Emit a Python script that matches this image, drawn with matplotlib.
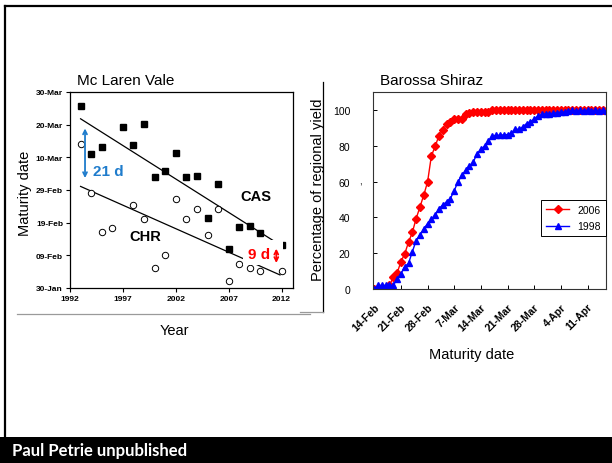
import numpy as np
import matplotlib
matplotlib.use('Agg')
import matplotlib.pyplot as plt
from matplotlib.lines import Line2D
from matplotlib.patches import Rectangle

plt.rcParams['font.family'] = ['Liberation Sans', 'DejaVu Sans']

W, H = 612, 464

# Mc Laren Vale maturity dates (day of year, leap-year calendar)
cas_years = [1993, 1994, 1995, 1997, 1998, 1999, 2000, 2001, 2002, 2003, 2004,
             2005, 2006, 2007, 2008, 2009, 2010, 2012]
cas_day = [85.8, 71.1, 73.1, 79.2, 73.7, 80.2, 64.1, 65.9, 71.4, 64.1, 64.3,
           51.3, 61.7, 42.0, 48.6, 49.0, 46.7, 43.3]
chr_years = [1993, 1994, 1995, 1996, 1998, 1999, 2000, 2001, 2002, 2003, 2004,
             2005, 2006, 2007, 2008, 2009, 2010, 2012]
chr_day = [74.1, 59.2, 47.2, 48.3, 55.4, 51.2, 36.2, 40.2, 57.2, 51.2, 54.2,
           46.3, 54.2, 32.2, 37.2, 36.2, 35.2, 35.2]

# trend lines
cas_trend_x = [1993, 2012]
cas_trend_y = [81.8, 42.9]
chr_trend_x = [1993, 2011.85]
chr_trend_y = [61.1, 34.0]

year_ticks = [1992, 1997, 2002, 2007, 2012]
date_ticks = [30, 40, 50, 60, 70, 80, 90]
date_labels = ['30-Jan', '09-Feb', '19-Feb', '29-Feb', '10-Mar', '20-Mar', '30-Mar']

# Barossa Shiraz cumulative harvest, one value per day from 14-Feb
yield_2006 = [0, 0, 0, 0.5, 2, 6.6, 8.8, 15.3, 19.6, 26.2, 31.6, 39.4, 45.8, 52.5,
              59.8, 74.4, 79.8, 85.8, 88.8, 92, 93.5, 94.8, 95, 95.3, 97.6, 98.5,
              99, 99, 99, 99, 99.2, 100, 100, 100, 100, 100, 100, 100, 100, 100,
              100, 100, 100, 100, 100, 100, 100, 100, 100, 100, 100, 100, 100, 100,
              100, 100, 100, 100, 100, 100, 100, 100]
yield_1998 = [0, 2, 2, 2, 2, 2, 5.5, 8.5, 12.5, 14.3, 20.8, 27.1, 30.2, 33.6, 36.6,
              39, 41.3, 45, 47, 48.8, 50.6, 55, 60, 63.6, 66.4, 68.8, 71, 75.7,
              78.1, 80, 82.6, 85.6, 86, 86, 86.2, 86.4, 87, 89.3, 89.3, 90.7, 92.5,
              93.5, 95, 96.8, 97.6, 98.1, 98, 98.3, 98.5, 99, 99, 99.4, 100, 99.5,
              100, 99.6, 100, 99.6, 100, 99.7, 100, 99.7]
week_ticks = [0, 7, 14, 21, 28, 35, 42, 49, 56]
week_labels = ['14-Feb', '21-Feb', '28-Feb', '7-Mar', '14-Mar', '21-Mar',
               '28-Mar', '4-Apr', '11-Apr']

BLUE = '#1f7ccc'
RED = '#ff0000'


def fx(px):
    return px / W


def fy(py):
    return 1 - py / H


fig = plt.figure(figsize=(W / 100, H / 100), dpi=100)

# ---- left panel ----
ax1 = fig.add_axes([fx(70), fy(289), (293 - 70) / W, (289 - 93) / H])
ax1.plot(cas_trend_x, cas_trend_y, color='black', lw=0.9, zorder=2)
ax1.plot(chr_trend_x, chr_trend_y, color='black', lw=0.9, zorder=2)
ax1.plot(cas_years, cas_day, 's', color='black', ms=4.6, zorder=3)
ax1.plot(chr_years, chr_day, 'o', mfc='white', mec='black', mew=0.7, ms=4.6, zorder=3)

# white text box round the 9 d label
ax1.add_patch(Rectangle((2008.35, 37.0), 2012.11 - 2008.35, 44.6 - 37.0,
                        facecolor='white', edgecolor='none', zorder=5))

ax1.annotate('', xy=(1993.42, 79.7), xytext=(1993.42, 62.8),
             arrowprops=dict(arrowstyle='<->', color=BLUE, lw=1.3, mutation_scale=7),
             zorder=6)
ax1.text(1995.6, 65.7, '21 d', color=BLUE, fontsize=11, fontweight='bold',
         ha='center', va='center', zorder=6)
ax1.annotate('', xy=(2011.5, 42.9), xytext=(2011.5, 36.8),
             arrowprops=dict(arrowstyle='<->', color=RED, lw=1.3, mutation_scale=7),
             zorder=6)
ax1.text(2009.9, 40.4, '9 d', color=RED, fontsize=11, fontweight='bold',
         ha='center', va='center', zorder=6)
ax1.text(2009.6, 58.3, 'CAS', fontsize=10.5, fontweight='bold', ha='center', va='center')
ax1.text(1999.1, 46.0, 'CHR', fontsize=10.5, fontweight='bold', ha='center', va='center')

ax1.set_xlim(1992, 2013.08)
ax1.set_ylim(30, 90)
ax1.set_xticks(year_ticks)
ax1.set_xticklabels([str(y) for y in year_ticks], fontsize=6, fontweight='bold')
ax1.set_yticks(date_ticks)
ax1.set_yticklabels(date_labels, fontsize=6, fontweight='bold')
ax1.tick_params(direction='out', length=3, width=0.8, pad=2)
for s in ax1.spines.values():
    s.set_linewidth(0.9)
ax1.text(0.03, 1.06, 'Mc Laren Vale', transform=ax1.transAxes, fontsize=11, va='center')
fig.text(fx(25), fy(193), 'Maturity date', rotation=90, fontsize=10.5,
         ha='center', va='center')
fig.text(fx(174), fy(331), 'Year', fontsize=10.5, ha='center', va='center')

# ---- right panel ----
days = np.arange(len(yield_2006))
ax2 = fig.add_axes([fx(372.7), fy(290), (606 - 372.7) / W, (290 - 93.3) / H])
ax2.plot(days, yield_2006, '-D', color=RED, ms=3.6, lw=1, label='2006')
ax2.plot(days, yield_1998, '-^', color='#0000ff', ms=4.5, lw=1, label='1998')
ax2.set_xlim(-0.4, 60.85)
ax2.set_ylim(0, 110)
ax2.set_yticks([0, 20, 40, 60, 80, 100])
ax2.set_yticklabels(['0', '20', '40', '60', '80', '100'], fontsize=7.5)
ax2.set_xticks(week_ticks)
ax2.set_xticklabels(week_labels, fontsize=7.5, fontweight='bold', rotation=45,
                    ha='right', rotation_mode='anchor')
ax2.tick_params(axis='y', direction='in', length=3, width=0.7, pad=16)
ax2.tick_params(axis='x', direction='in', length=3, width=0.7, pad=9)
for s in ax2.spines.values():
    s.set_linewidth(0.8)
    s.set_color('#333333')
leg = ax2.legend(loc='upper left', bbox_to_anchor=(0.70, 0.48), fontsize=7.5,
                 frameon=True, fancybox=False, edgecolor='black', framealpha=1,
                 handlelength=2.2, borderpad=0.5, labelspacing=0.6)
leg.get_frame().set_linewidth(0.7)
ax2.text(0.03, 1.06, 'Barossa Shiraz', transform=ax2.transAxes, fontsize=11, va='center')
fig.text(fx(318), fy(190), 'Percentage of regional yield', rotation=90, fontsize=10.5,
         ha='center', va='center')
fig.text(fx(360), fy(181), ',', fontsize=7, ha='center', va='center')
fig.text(fx(472), fy(355), 'Maturity date', fontsize=10.5, ha='center', va='center')

# ---- slide furniture ----
fig.add_artist(Line2D([fx(5), 1], [fy(7), fy(7)], color='black', lw=1.6))
fig.add_artist(Line2D([fx(5), fx(5)], [fy(7), fy(438)], color='black', lw=1.6))
fig.add_artist(Line2D([fx(17), fx(310)], [fy(315), fy(315)], color='#9a9a9a', lw=0.9))
fig.add_artist(Line2D([fx(323), fx(323)], [fy(83), fy(313)], color='black', lw=0.9))
fig.add_artist(Line2D([fx(300), fx(323)], [fy(313), fy(313)], color='#9a9a9a', lw=0.9))
fig.add_artist(Rectangle((0, 0), 1, fy(438), transform=fig.transFigure,
                         facecolor='black', edgecolor='none'))
fig.text(fx(12), fy(451), 'Paul Petrie unpublished', color='white', fontsize=12,
         fontweight='bold', family=['Lato', 'DejaVu Sans'], va='center')

fig.savefig('out.png', dpi=100)
